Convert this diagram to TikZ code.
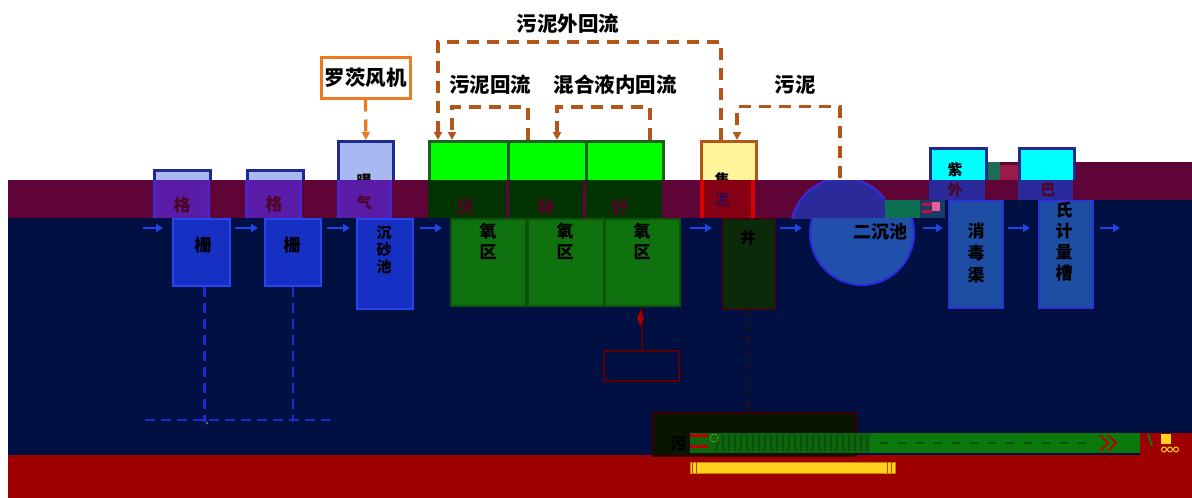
\documentclass[tikz,border=0pt]{standalone}
\usepackage{fontspec}
\newfontfamily\cjk{Noto Sans CJK SC}
\usetikzlibrary{arrows.meta}
\definecolor{bandP}{HTML}{5F0437}
\definecolor{bandN}{HTML}{001042}
\definecolor{bandR}{HTML}{9E0000}
\definecolor{brn}{HTML}{B4561A}
\definecolor{org}{HTML}{EC7A22}
\definecolor{lblue}{HTML}{A8B8F0}
\definecolor{dnavy}{HTML}{1F2A8A}
\definecolor{violetF}{HTML}{5A1CA6}
\definecolor{violetE}{HTML}{4B24CC}
\definecolor{nbox}{HTML}{1630C4}
\definecolor{nboxE}{HTML}{2446F0}
\definecolor{lime}{HTML}{00FF00}
\definecolor{dgreen}{HTML}{1E5E1E}
\definecolor{ngreen}{HTML}{0F720F}
\definecolor{ngreenE}{HTML}{0A540A}
\definecolor{bgreen}{HTML}{003300}
\definecolor{yelF}{HTML}{FFF59A}
\definecolor{steel}{HTML}{1E4EA4}
\definecolor{steelE}{HTML}{2A34D6}
\definecolor{flowb}{HTML}{1C44E6}
\definecolor{redtxt}{HTML}{4E0424}
\definecolor{cyanF}{HTML}{00FFFF}
\definecolor{cband}{HTML}{2B2A9B}
\definecolor{cbandE}{HTML}{3A2AD8}
\definecolor{circN}{HTML}{2050AC}
\definecolor{circNE}{HTML}{2A28E0}
\definecolor{tealG}{HTML}{0E6E50}
\definecolor{yelB}{HTML}{FFD21F}
\definecolor{bluedash}{HTML}{1A2ED0}
\definecolor{gA}{HTML}{2E7A2E}
\definecolor{tlA}{HTML}{1F6B5A}
\definecolor{mA}{HTML}{9A1A4A}
\definecolor{rA}{HTML}{D80000}
\definecolor{rB}{HTML}{850012}
\definecolor{nvA}{HTML}{1A3A6A}
\definecolor{rC}{HTML}{C01040}
\definecolor{pkA}{HTML}{E060A0}
\definecolor{gB}{HTML}{1F7A2F}
\definecolor{pY}{HTML}{3A0850}
\definecolor{dkY}{HTML}{0A2A0A}
\definecolor{dkYE}{HTML}{3A0A0A}
\definecolor{dbF}{HTML}{0A1500}
\definecolor{dbE}{HTML}{3A0000}
\definecolor{sbE}{HTML}{5A0000}
\definecolor{gbL}{HTML}{0D650D}
\definecolor{gbT}{HTML}{0A500A}
\definecolor{gbR}{HTML}{0A780A}
\definecolor{gbD}{HTML}{065006}
\definecolor{rD}{HTML}{C00000}
\definecolor{ygA}{HTML}{9AD000}
\definecolor{ybE}{HTML}{D08000}
\definecolor{ybT}{HTML}{C04000}
\definecolor{gdot}{HTML}{2E8A4A}
\definecolor{dashD}{HTML}{1A0F1F}
\definecolor{tipD}{HTML}{6A0000}
\definecolor{dmR}{HTML}{A00000}
\begin{document}
\begin{tikzpicture}[x=1pt,y=-1pt,
 lbl/.style={font=\cjk\bfseries\fontsize{20.5}{22}\selectfont, inner sep=0pt},
 vt/.style={font=\cjk\bfseries\fontsize{17}{21}\selectfont, inner sep=0pt, align=center},
 ret/.style={brn, line width=3.2pt, dash pattern=on 12pt off 8pt, -{Triangle[length=8pt,width=8pt]}},
 flow/.style={flowb, line width=2.5pt, -{Triangle[length=7pt,width=8pt]}},
 topbox/.style={draw=dnavy, line width=2.8pt, anchor=north west, inner sep=0pt},
 nb/.style={fill=nbox, draw=nboxE, line width=1.8pt, anchor=north west, inner sep=0pt},
 bret/.style={bluedash, line width=2.5pt, dash pattern=on 10pt off 6pt},
]
\useasboundingbox (0,0) rectangle (1192,498);
\fill[white] (0,0) rectangle (1192,498);
% right upper purple strip
\fill[bandP] (985,162) rectangle (1192,180);
\fill[gA] (958,162) rectangle (972,180);
\fill[tlA] (972,162) rectangle (1000,180);
\fill[mA] (1000,165) rectangle (1018,180);

% top boxes
\node[topbox, fill=lblue, minimum width=56pt, minimum height=14pt] (tA) at (153,169) {};
\node[topbox, fill=lblue, minimum width=56pt, minimum height=14pt] (tB) at (246,169) {};
\node[topbox, fill=lblue, minimum width=55pt, minimum height=45pt] (tC) at (337,140) {};
\node[topbox, draw=dgreen, fill=lime, minimum width=79pt, minimum height=45pt] (a1) at (428,140) {};
\node[topbox, draw=dgreen, fill=lime, minimum width=78pt, minimum height=45pt] (a2) at (507,140) {};
\node[topbox, draw=dgreen, fill=lime, minimum width=77pt, minimum height=45pt] (a3) at (585,140) {};
\node[topbox, draw=brn, fill=yelF, minimum width=55pt, minimum height=45pt] (yb) at (700,140) {};
\node[topbox, fill=cyanF, minimum width=56pt, minimum height=38pt] (tU) at (929,147) {};
\node[topbox, fill=cyanF, minimum width=55pt, minimum height=38pt] (tP) at (1018,147) {};
\node[circle, minimum size=104pt, inner sep=0pt] (clr) at (843,230) {};

\node[vt, font=\cjk\bfseries\fontsize{15}{17}\selectfont] (tCt) at (364,181) {曝};
\node[vt, font=\cjk\bfseries\fontsize{15}{17}\selectfont] (tYt) at (722,180) {集};
\node[vt, font=\cjk\bfseries\fontsize{15}{17}\selectfont] (tUt) at (955,170) {紫};

% fan and labels
\node[draw=org, line width=3pt, fill=white, lbl, minimum width=89pt, minimum height=41pt] (fan) at (365.5,77.5) {罗茨风机};
\node[lbl] (L1) at (568,24) {污泥外回流};
\node[lbl] (L2) at (490,85) {污泥回流};
\node[lbl] (L3) at (615,85) {混合液内回流};
\node[lbl] (L4) at (795,85) {污泥};

% bands
\fill[bandP] (8,180) rectangle (885,218);
\fill[bandP] (885,180) rectangle (1192,200);
\fill[bandN] (8,218) rectangle (1192,455);
\fill[bandN] (885,200) rectangle (1192,218);
\fill[bandR] (8,455) rectangle (1192,498);

% band-tinted parts
\foreach \l/\r in {153/210, 245/302, 337/392}{
  \fill[violetE] (\l,180) rectangle (\r,218);
  \fill[violetF] (\l+3,180) rectangle (\r-3,218);
}
\fill[bgreen] (428,180) rectangle (662,218);
\fill[bandP] (506,180) rectangle (508.5,218);
\fill[bandP] (583,180) rectangle (585.5,218);
\fill[rA] (700,180) rectangle (755,218);
\fill[rB] (704,180) rectangle (751,218);
\begin{scope}
 \clip (780,180) rectangle (885,218);
 \filldraw[fill=cband, draw=cbandE, line width=2pt] (843,230) circle (52);
\end{scope}
\fill[tealG] (885,200) rectangle (920,218);
\fill[nvA] (920,200) rectangle (945,218);
\fill[rC] (922,203) rectangle (932,206);
\fill[rC] (922,210) rectangle (932,213);
\fill[pkA] (932,202) rectangle (940,211);
\fill[gB] (955,201) rectangle (968,216);
\fill[cband] (929,180) rectangle (985,200);
\fill[cband] (1018,180) rectangle (1073,200);

\node[vt, text=redtxt] (bA) at (182,205) {格};
\node[vt, text=redtxt] (bB) at (274,204) {格};
\node[vt, text=redtxt, font=\cjk\bfseries\fontsize{15}{17}\selectfont] (bC) at (364,203) {气};
\node[vt, text=redtxt] (b1) at (465,207) {厌};
\node[vt, text=redtxt] (b2) at (546,207) {缺};
\node[vt, text=redtxt] (b3) at (620,207) {好};
\node[vt, text=pY, font=\cjk\bfseries\fontsize{15}{17}\selectfont] (bY) at (722,200) {泥};
\node[vt, text=redtxt, font=\cjk\bfseries\fontsize{15}{17}\selectfont] (bU) at (955,190) {外};
\node[vt, text=redtxt, font=\cjk\bfseries\fontsize{15}{17}\selectfont] (bP) at (1048,190) {巴};

% navy-region shifted boxes
\node[nb, minimum width=57pt, minimum height=67pt] (nA) at (172,218) {};
\node[nb, minimum width=56pt, minimum height=67pt] (nB) at (264,218) {};
\node[nb, minimum width=56pt, minimum height=90pt] (nC) at (356,218) {};
\node[nb, fill=ngreen, draw=ngreenE, minimum width=75pt, minimum height=87pt] (n1) at (450,218) {};
\node[nb, fill=ngreen, draw=ngreenE, minimum width=76pt, minimum height=87pt] (n2) at (527,218) {};
\node[nb, fill=ngreen, draw=ngreenE, minimum width=75pt, minimum height=87pt] (n3) at (604,218) {};
\node[nb, fill=dkY, draw=dkYE, minimum width=52pt, minimum height=90pt] (nY) at (722,218) {};
\begin{scope}
 \clip (700,218) rectangle (950,455);
 \node[circle, fill=circN, draw=circNE, line width=2pt, minimum size=104pt, inner sep=0pt] (nS) at (862,233) {};
\end{scope}
\node[nb, fill=steel, draw=steelE, minimum width=54pt, minimum height=107pt] (nU) at (948,200) {};
\node[nb, fill=steel, draw=steelE, minimum width=54pt, minimum height=107pt] (nP) at (1038,200) {};

\node[vt, text=black] (xA) at (203,245) {栅};
\node[vt, text=black] (xB) at (292,245) {栅};
\node[vt, text=black, font=\cjk\bfseries\fontsize{15}{17}\selectfont] (xC) at (384,250) {沉\\砂\\池};
\node[vt, text=black] (x1) at (488,241) {氧\\区};
\node[vt, text=black] (x2) at (565,241) {氧\\区};
\node[vt, text=black] (x3) at (642,241) {氧\\区};
\node[vt, text=black, font=\cjk\bfseries\fontsize{15}{17}\selectfont] (xY) at (748,238) {井};
\node[vt, text=black, font=\cjk\bfseries\fontsize{18}{20}\selectfont] (xS) at (880,232) {二沉池};
\node[vt, text=black, font=\cjk\bfseries\fontsize{17}{22}\selectfont] (xU) at (976,253) {消\\毒\\渠};
\node[vt, text=black, font=\cjk\bfseries\fontsize{17}{21}\selectfont] (xP) at (1064,242) {氏\\计\\量\\槽};

% lower items
\node[nb, fill=dbF, draw=dbE, minimum width=203pt, minimum height=43pt] (dB) at (652,412) {};
\node[nb, fill=none, draw=sbE, line width=2.2pt, minimum width=75pt, minimum height=30pt] (sb) at (603,350) {};
\fill[gbL] (690,433) rectangle (870,453);
\foreach \i in {0,...,25} \fill[gbT] (716+6*\i,435) rectangle (718+6*\i,451);
\fill[gbR] (870,433) rectangle (1140,453);
\draw[gbD, line width=2pt, dash pattern=on 8pt off 10pt] (880,443) -- (1090,443);
\fill[rD] (690,434) rectangle (708,437);
\fill[rD] (690,445) rectangle (708,448);
\draw[ygA, line width=0.8pt, densely dotted] (714,438) circle (4);
\draw[rD, line width=2pt] (1100,435) -- (1108,443) -- (1100,451) (1108,435) -- (1116,443) -- (1108,451);
\fill[bandR] (1140,433) rectangle (1192,455);
\draw[gbR, line width=2pt] (1148,434) -- (1152,446);
\fill[yelB] (1161,434) rectangle (1171,444);
\foreach \i in {0,1,2} \draw[yelB, line width=1pt] (1164+6*\i,449.5) circle (2.5);
\node[vt, text=black, font=\cjk\bfseries\fontsize{16}{18}\selectfont] (dBt) at (678,443) {污};
\filldraw[fill=yelB, draw=ybE, line width=1pt] (690,462) rectangle (895,473);
\draw[ybT, line width=1pt] (692,462) -- (692,473) (696,462) -- (696,473) (887,462) -- (887,473) (891,462) -- (891,473);

% connectors
\draw[ret] ([xshift=21pt]yb.north west) -- ++(0,-98) -| ([xshift=10pt]a1.north west);
\draw[ret] ([xshift=21pt]a2.north west) -- ++(0,-33) -| ([xshift=24pt]a1.north west);
\draw[ret] ([xshift=65pt]a3.north west) -- ++(0,-33) -| ([xshift=50pt]a2.north west);
\draw[ret] ([xshift=-3pt]clr.north) -- ++(0,-71) -| ([xshift=37pt]yb.north west);
\draw[ret, org] (fan.south) -- (tC.north);

\foreach \a/\b in {143/163, 235/258, 327/350, 420/442, 690/712, 780/802, 923/943, 1008/1030, 1100/1120}
  \draw[flow] (\a,228) -- (\b,228);

\draw[bret] ([xshift=3pt]nA.south) -- ++(0,135);
\draw[bret] (nB.south) -- ++(0,135);
\coordinate (hl) at (145,420);
\coordinate (hr) at (330,420);
\draw[bret] (hl) -- (hr);
\fill[gdot] (207,423) circle (1.5);

\draw[dashD, line width=3pt, dash pattern=on 7pt off 6pt, -{Triangle[length=6pt,width=6pt,fill=tipD]}] (nY.south) -- (nY.south |- dB.north);
\draw[sbE, line width=2pt] (n3.south -| sb.north) -- (sb.north);
\fill[dmR] (640.5,310) -- (644,318) -- (640.5,326) -- (637,318) -- cycle;
\end{tikzpicture}
\end{document}
